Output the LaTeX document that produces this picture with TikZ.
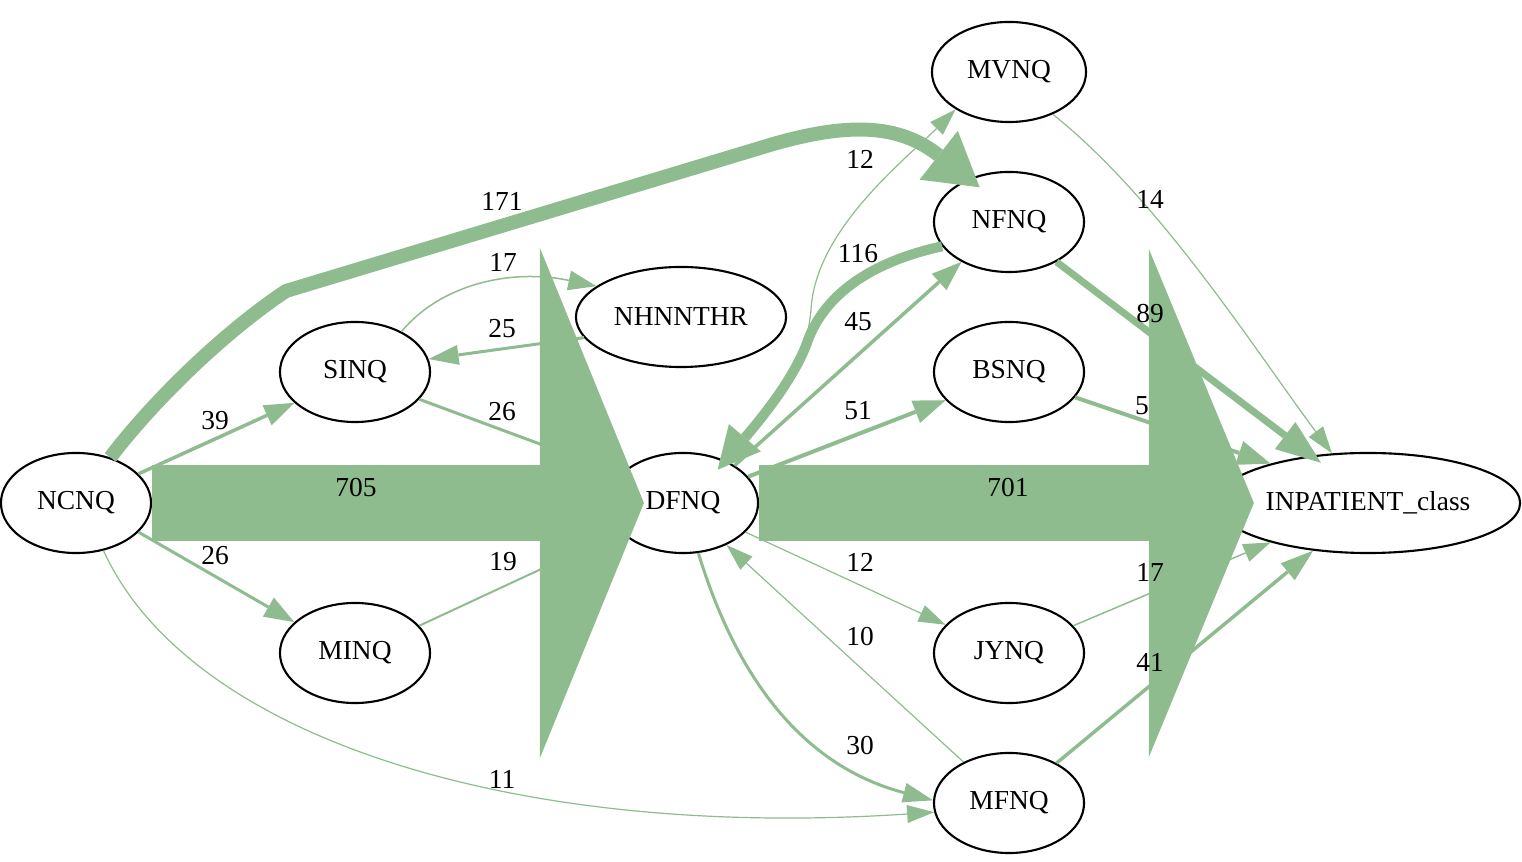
\documentclass[tikz,border=0pt]{standalone}
\usepackage{fontspec}
\setmainfont{Liberation Serif}
\usetikzlibrary{arrows.meta,shapes.geometric}
\definecolor{flow}{RGB}{143,188,143}
\tikzset{
  state/.style={ellipse, draw=black, line width=0.6pt, fill=white, inner sep=0pt,
    minimum width=1.5cm, minimum height=1cm, font=\fontsize{7.8}{9}\selectfont},
  lbl/.style={inner sep=0pt, font=\fontsize{7.8}{9}\selectfont},
  flowedge/.style={draw=flow, line cap=butt, line join=round},
  tipsz/.style 2 args={-{Triangle[length=#1, width=#2, line width=0pt]}},
}
\begin{document}
\begin{tikzpicture}[x=0.01cm, y=-0.01cm]
\useasboundingbox (0,0) rectangle (1522,862);

% nodes
\node[state] (NCNQ) at (76,503) {NCNQ};
\node[state] (SINQ) at (355,372) {SINQ};
\node[state] (MINQ) at (355,653) {MINQ};
\node[state, minimum width=2.1cm] (NHNNTHR) at (681,317) {NHNNTHR};
\node[state] (DFNQ) at (683,503) {DFNQ};
\node[state, minimum width=1.54cm] (MVNQ) at (1009,72) {MVNQ};
\node[state] (NFNQ) at (1009,222) {NFNQ};
\node[state] (BSNQ) at (1009,372) {BSNQ};
\node[state] (JYNQ) at (1009,653) {JYNQ};
\node[state] (MFNQ) at (1009,803) {MFNQ};
\node[state, minimum width=3.04cm] (INP) at (1368,503) {INPATIENT\_class};

% thin and medium edges
\draw[flowedge, line width=0.035cm, tipsz={0.30cm}{0.22cm}] (NCNQ.25) -- (SINQ.207);
\draw[flowedge, line width=0.03cm, tipsz={0.30cm}{0.22cm}] (NCNQ.-25) -- (MINQ.153);
\draw[flowedge, line width=0.012cm, tipsz={0.27cm}{0.18cm}] (NCNQ.-60) .. controls (190,740) and (520,840) .. (MFNQ.187);
\draw[flowedge, line width=0.015cm, tipsz={0.28cm}{0.20cm}] (SINQ.41) .. controls (440,285) and (510,268) .. (NHNNTHR.160);
\draw[flowedge, line width=0.03cm, tipsz={0.30cm}{0.20cm}] (NHNNTHR.192) -- (SINQ.10);
\draw[flowedge, line width=0.03cm, tipsz={0.30cm}{0.22cm}] (SINQ.-23) -- (DFNQ.155);
\draw[flowedge, line width=0.02cm, tipsz={0.28cm}{0.20cm}] (MINQ.23) -- (DFNQ.205);

\draw[flowedge, line width=0.012cm, tipsz={0.27cm}{0.18cm}] (DFNQ.50) .. controls (775,420) and (805,370) .. (811,310) .. controls (815,230) and (905,160) .. (MVNQ.215);
\draw[flowedge, line width=0.035cm, tipsz={0.30cm}{0.22cm}] (DFNQ.36) -- (NFNQ.220);
\draw[flowedge, line width=0.04cm, tipsz={0.32cm}{0.24cm}] (DFNQ.22) -- (BSNQ.204);
\draw[flowedge, line width=0.012cm, tipsz={0.27cm}{0.18cm}] (DFNQ.-25) -- (JYNQ.156);
\draw[flowedge, line width=0.012cm, tipsz={0.27cm}{0.18cm}] (MFNQ.138) -- (DFNQ.-44);
\draw[flowedge, line width=0.03cm, tipsz={0.30cm}{0.20cm}] (DFNQ.-73) .. controls (725,640) and (780,760) .. (MFNQ.178);

\draw[flowedge, line width=0.012cm, tipsz={0.27cm}{0.18cm}] (MVNQ.-44) .. controls (1160,200) and (1255,350) .. (INP.126);
\draw[flowedge, line width=0.07cm, tipsz={0.45cm}{0.34cm}, shorten >=-0.12cm] (NFNQ.-40) -- (INP.140);
\draw[flowedge, line width=0.04cm, tipsz={0.33cm}{0.25cm}] (BSNQ.-21) -- (INP.158);
\draw[flowedge, line width=0.015cm, tipsz={0.27cm}{0.19cm}] (JYNQ.23) -- (INP.202);
\draw[flowedge, line width=0.035cm, tipsz={0.33cm}{0.22cm}] (MFNQ.40) -- (INP.221);

% thick curved edges
\draw[flowedge, line width=0.10cm, tipsz={0.42cm}{0.42cm}, shorten >=-0.12cm] (NFNQ.200) .. controls (870,262) and (825,295) .. (808,340) .. controls (795,378) and (760,420) .. (DFNQ.45);
\draw[flowedge, line width=0.14cm, tipsz={0.52cm}{0.62cm}, shorten >=-0.14cm] (NCNQ.53) .. controls (150,405) and (220,335) .. (286,291) -- (760,148) .. controls (850,120) and (900,125) .. (NFNQ.133);

% big flows
\draw[flowedge, line width=0.75cm, tipsz={1.04cm}{5.1cm}] (NCNQ.east) -- ([xshift=0.37cm]DFNQ.west);
\draw[flowedge, line width=0.75cm, tipsz={1.05cm}{5.08cm}] (DFNQ.east) -- ([xshift=0.39cm]INP.west);

% labels
\node[lbl] (t705) at (356,488) {705};
\node[lbl] (t701) at (1008,488) {701};
\node[lbl] (t171) at (502,201) {171};
\node[lbl] (t39) at (215,421) {39};
\node[lbl] (t26a) at (215,556) {26};
\node[lbl] (t11) at (502,779) {11};
\node[lbl] (t17a) at (503,262) {17};
\node[lbl] (t25) at (502,329) {25};
\node[lbl] (t26b) at (502,412) {26};
\node[lbl] (t19) at (503,562) {19};
\node[lbl] (t12a) at (860,159) {12};
\node[lbl] (t116) at (858,254) {116};
\node[lbl] (t45) at (858,322) {45};
\node[lbl] (t51) at (858,411) {51};
\node[lbl] (t12b) at (860,562) {12};
\node[lbl] (t10) at (860,637) {10};
\node[lbl] (t30) at (860,746) {30};
\node[lbl] (t14) at (1150,199) {14};
\node[lbl] (t89) at (1150,314) {89};
\node[lbl] (t5) at (1142,406) {5};
\node[lbl] (t17b) at (1150,572) {17};
\node[lbl] (t41) at (1150,662) {41};
\end{tikzpicture}
\end{document}
